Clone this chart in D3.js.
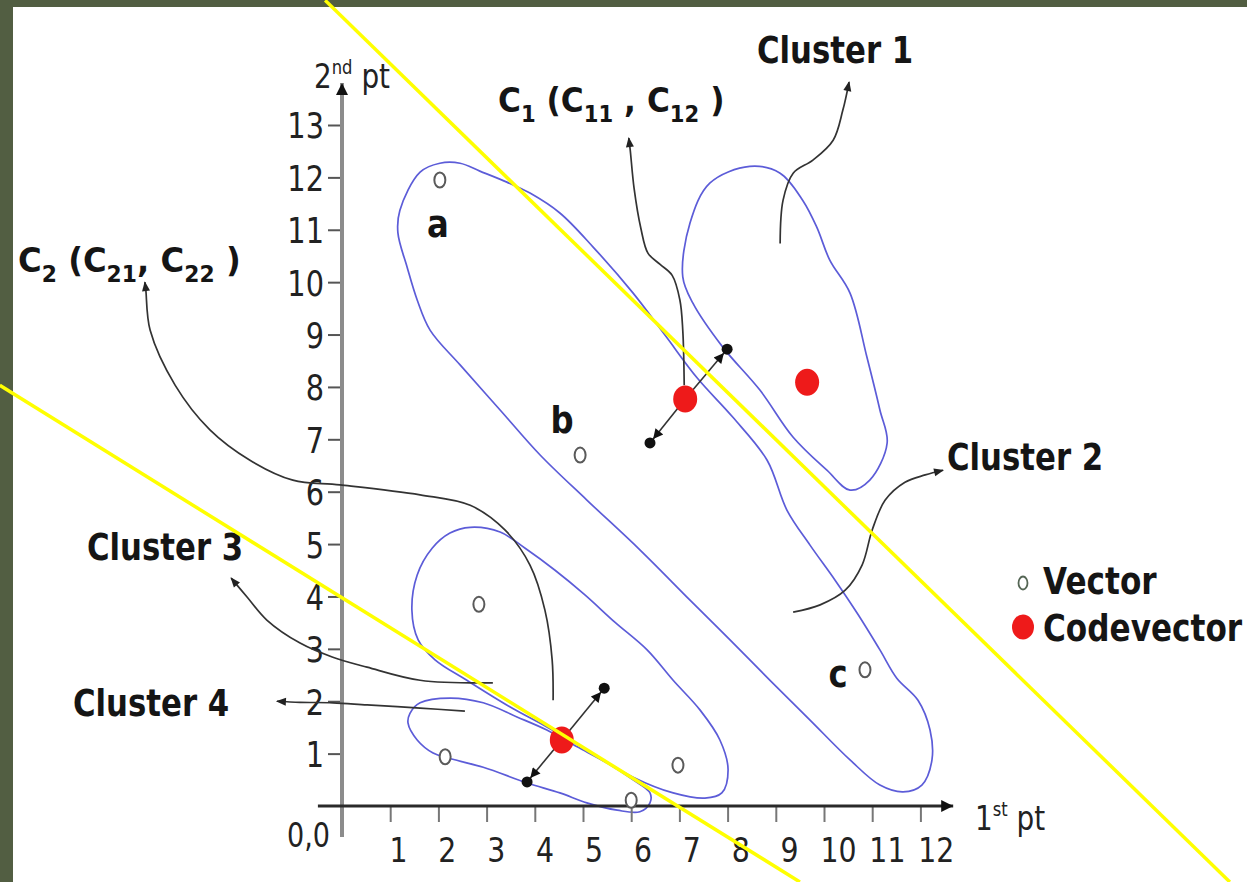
<!DOCTYPE html>
<html>
<head>
<meta charset="utf-8">
<script src="https://cdn.jsdelivr.net/npm/d3@7"></script>
<style>
  html, body { margin: 0; padding: 0; background: #fff; overflow: hidden; }
  svg { display: block; }
</style>
</head>
<body>
<svg id="chart" width="1247" height="882"></svg>
<script>
// ---- Data (in axis units: 1st pt, 2nd pt) ----
const xTicks = [1, 2, 3, 4, 5, 6, 7, 8, 9, 10, 11, 12];
const yTicks = [1, 2, 3, 4, 5, 6, 7, 8, 9, 10, 11, 12, 13];

// training vectors (open markers); the first three carry the letters a, b, c
const vectors = [[2.03, 11.95], [4.94, 6.70], [10.85, 2.60], [2.84, 3.85], [2.14, 0.94], [6.97, 0.78], [6.0, 0.11]];
const vectorNames = ["a", "b", "c"];

// codevectors (filled red): C1, cluster-1 centre, C2
const codevectors = [[7.12, 7.77], [9.65, 8.09], [4.56, 1.26]];
// displacement arrows drawn out of C1 and C2
const c1Moves = [[7.99, 8.72], [6.39, 6.93]];
const c2Moves = [[5.44, 2.25], [3.84, 0.46]];

// hand-drawn cluster outlines
const cluster1 = [[8.46, 12.21], [9.09, 12.08], [9.56, 11.56], [9.85, 11.05], [10.12, 10.42], [10.54, 9.79], [10.89, 8.57], [11.16, 7.56], [11.31, 6.93], [10.95, 6.22], [10.54, 6.03], [10.06, 6.41], [9.36, 7.04], [8.67, 7.94], [7.90, 8.76], [7.28, 9.60], [7.07, 10.10], [7.22, 11.13], [7.63, 11.89]];
const cluster2 = [[1.62, 12.10], [2.03, 12.27], [2.45, 12.27], [2.86, 12.12], [3.42, 11.91], [3.90, 11.70], [4.52, 11.32], [5.21, 10.67], [6.04, 9.79], [6.70, 8.99], [7.37, 8.17], [8.11, 7.42], [8.82, 6.60], [9.23, 5.65], [9.71, 4.98], [10.23, 4.31], [10.71, 3.65], [11.16, 2.98], [11.51, 2.44], [11.95, 2.02], [12.20, 1.45], [12.24, 0.88], [12.03, 0.40], [11.64, 0.27], [11.16, 0.40], [10.54, 0.88], [9.71, 1.64], [8.88, 2.40], [8.05, 3.17], [7.22, 3.93], [6.18, 4.89], [5.08, 5.84], [4.11, 6.70], [3.28, 7.56], [2.45, 8.42], [1.83, 9.08], [1.56, 9.66], [1.35, 10.29], [1.16, 10.94], [1.20, 11.37]];
const cluster3 = [[2.66, 5.32], [3.28, 5.23], [3.80, 4.92], [4.42, 4.50], [5.04, 4.03], [5.66, 3.51], [6.33, 2.98], [6.87, 2.40], [7.43, 1.83], [7.84, 1.26], [8.01, 0.69], [7.88, 0.25], [7.53, 0.15], [6.87, 0.25], [6.04, 0.55], [5.08, 1.07], [4.25, 1.51], [3.49, 1.89], [2.59, 2.40], [1.93, 2.79], [1.58, 3.17], [1.45, 3.74], [1.56, 4.41], [1.87, 4.92], [2.24, 5.21]];
const cluster4 = [[1.41, 1.77], [1.62, 1.97], [2.24, 2.06], [2.93, 1.97], [3.63, 1.70], [4.25, 1.45], [4.88, 1.13], [5.50, 0.82], [6.04, 0.50], [6.39, 0.25], [6.39, 0.06], [6.18, -0.11], [5.71, -0.08], [5.08, 0.06], [4.52, 0.25], [3.84, 0.44], [2.93, 0.74], [2.18, 0.92], [1.89, 1.01], [1.56, 1.26], [1.37, 1.58]];

// callout curves, each ending in an arrowhead next to its caption
const calloutCluster1 = [[9.09, 10.74], [9.15, 11.56], [9.36, 12.08], [9.77, 12.33], [10.19, 12.71], [10.39, 13.28], [10.52, 13.82]];
const calloutC1 = [[7.10, 8.03], [7.07, 9.08], [7.01, 9.66], [6.85, 10.13], [6.60, 10.34], [6.35, 10.55], [6.20, 11.03], [6.06, 11.79], [5.98, 12.52], [5.95, 12.75]];
const calloutC2 = [[4.38, 2.02], [4.36, 2.79], [4.21, 3.74], [3.90, 4.60], [3.38, 5.27], [2.66, 5.74], [1.62, 5.94], [-0.04, 6.13], [-1.02, 6.22], [-1.91, 6.60], [-2.74, 7.18], [-3.46, 8.03], [-3.98, 9.08], [-4.07, 9.85], [-4.09, 10.0]];
const calloutCluster3 = [[3.13, 2.35], [1.62, 2.40], [0.52, 2.65], [-0.19, 2.84], [-0.87, 3.11], [-1.56, 3.55], [-1.97, 3.99], [-2.30, 4.35]];
const calloutCluster4 = [[2.55, 1.81], [1.62, 1.87], [0.52, 1.93], [-0.19, 1.97], [-0.87, 1.98], [-1.35, 2.00]];
const calloutCluster2 = [[9.36, 3.70], [9.92, 3.84], [10.44, 4.12], [10.79, 4.60], [11.00, 5.27], [11.27, 5.84], [11.68, 6.18], [12.10, 6.32], [12.47, 6.41]];

// the two yellow straight lines crossing the plane
const splitLines = [
  [[-0.35, 15.38], [18.42, -1.45]],
  [[-7.10, 8.03], [9.50, -1.45]]
];

// ---- Layout ----
const W = 1247, H = 882;
const svg = d3.select("#chart");
const x = d3.scaleLinear().domain([0, 12]).range([342, 920.4]);
const y = d3.scaleLinear().domain([0, 13]).range([806, 125]);

const INK = "#151515";
const BLUE = "#5c5cd8";
const RED = "#ee1a1a";

// frame
svg.append("rect").attr("width", W).attr("height", H).attr("fill", "#525e42");
svg.append("rect").attr("x", 13).attr("y", 7).attr("width", W - 13).attr("height", H - 7).attr("fill", "#fff");

// markers
const defs = svg.append("defs");
defs.append("marker").attr("id", "head")
  .attr("viewBox", "0 0 10 10").attr("refX", 9).attr("refY", 5)
  .attr("markerUnits", "userSpaceOnUse").attr("markerWidth", 11).attr("markerHeight", 10)
  .attr("orient", "auto")
  .append("path").attr("d", "M0,1 L10,5 L0,9 Z").attr("fill", "#222");
defs.append("marker").attr("id", "axisHead")
  .attr("viewBox", "0 0 10 10").attr("refX", 10).attr("refY", 5)
  .attr("markerUnits", "userSpaceOnUse").attr("markerWidth", 14).attr("markerHeight", 12)
  .attr("orient", "auto")
  .append("path").attr("d", "M0,0 L10,5 L0,10 Z").attr("fill", "#111");
defs.append("marker").attr("id", "moveHead")
  .attr("viewBox", "0 0 10 10").attr("refX", 15).attr("refY", 5)
  .attr("markerUnits", "userSpaceOnUse").attr("markerWidth", 12).attr("markerHeight", 10)
  .attr("orient", "auto")
  .append("path").attr("d", "M0,0 L10,5 L0,10 Z").attr("fill", "#111");

// cluster outlines
const outline = d3.line().x(d => x(d[0])).y(d => y(d[1])).curve(d3.curveCatmullRomClosed.alpha(0.5));
svg.append("g").selectAll("path")
  .data([cluster1, cluster2, cluster3, cluster4])
  .join("path")
  .attr("d", outline)
  .attr("fill", "none")
  .attr("stroke", BLUE)
  .attr("stroke-width", 1.7);

// axes
const yAxis = d3.axisLeft(y).tickValues(yTicks).tickSizeInner(14).tickSizeOuter(0);
const gy = svg.append("g").attr("transform", `translate(${x(0)},0)`).call(yAxis);
gy.select(".domain").remove();
gy.selectAll(".tick line").attr("stroke", "#555").attr("stroke-width", 2);
gy.selectAll(".tick text")
  .attr("font-family", "DejaVu Sans").attr("font-size", 36).attr("fill", "#222")
  .attr("x", 0).attr("dy", "0.36em")
  .attr("transform", "translate(-18,0) scale(0.8,1)");

const xAxis = d3.axisBottom(x).tickValues(xTicks).tickSizeInner(16).tickSizeOuter(0);
const gx = svg.append("g").attr("transform", `translate(0,${y(0)})`).call(xAxis);
gx.select(".domain").remove();
gx.selectAll(".tick line").attr("stroke", "#777").attr("stroke-width", 2);
gx.selectAll(".tick text")
  .attr("font-family", "DejaVu Sans").attr("font-size", 33).attr("fill", "#222")
  .attr("y", 0).attr("dy", 0)
  .attr("transform", d => `translate(${7 + d * 0.7},56) scale(0.86,1)`);

// axis lines with arrowheads
svg.append("line")
  .attr("x1", x(0)).attr("y1", y(-0.59)).attr("x2", x(0)).attr("y2", y(13.8))
  .attr("stroke", "#8c8c8c").attr("stroke-width", 4).attr("marker-end", "url(#axisHead)");
svg.append("line")
  .attr("x1", x(-0.5)).attr("y1", y(0)).attr("x2", x(12.68)).attr("y2", y(0))
  .attr("stroke", "#2a2a2a").attr("stroke-width", 3).attr("marker-end", "url(#axisHead)");

// axis captions
function scaledText(px, py, sx, opts) {
  const g = svg.append("g").attr("transform", `translate(${px},${py}) scale(${sx},1)`);
  const t = g.append("text")
    .attr("font-family", opts.family || "DejaVu Sans")
    .attr("font-size", opts.size)
    .attr("font-weight", opts.weight || "normal")
    .attr("fill", opts.fill || INK)
    .attr("text-anchor", opts.anchor || "start");
  return t;
}
function supCaption(px, py, base, sup, rest) {
  const t = scaledText(px, py, 0.82, { size: 34, fill: "#222" });
  t.append("tspan").text(base);
  t.append("tspan").attr("font-size", 20).attr("dy", -14).text(sup);
  t.append("tspan").attr("dy", 14).text(rest);
}
supCaption(314, 88, "2", "nd", " pt");
supCaption(975, 830, "1", "st", "  pt");
scaledText(330, 847, 0.82, { size: 33, fill: "#222", anchor: "end" }).text("0,0");

// callout curves
const callout = d3.line().x(d => x(d[0])).y(d => y(d[1])).curve(d3.curveCatmullRom.alpha(0.5));
svg.append("g").selectAll("path")
  .data([calloutCluster1, calloutC1, calloutC2, calloutCluster3, calloutCluster4, calloutCluster2])
  .join("path")
  .attr("d", callout)
  .attr("fill", "none")
  .attr("stroke", "#333")
  .attr("stroke-width", 1.7)
  .attr("marker-end", "url(#head)");

// codevector displacement arrows
const moves = [
  ...c1Moves.map(e => [codevectors[0], e]),
  ...c2Moves.map(e => [codevectors[2], e])
];
svg.append("g").selectAll("line")
  .data(moves)
  .join("line")
  .attr("x1", d => x(d[0][0])).attr("y1", d => y(d[0][1]))
  .attr("x2", d => x(d[1][0])).attr("y2", d => y(d[1][1]))
  .attr("stroke", "#333").attr("stroke-width", 1.6)
  .attr("marker-end", "url(#moveHead)");
svg.append("g").selectAll("circle")
  .data(moves)
  .join("circle")
  .attr("cx", d => x(d[1][0])).attr("cy", d => y(d[1][1]))
  .attr("r", 5.5).attr("fill", "#111");

// vectors
svg.append("g").selectAll("ellipse")
  .data(vectors)
  .join("ellipse")
  .attr("cx", d => x(d[0])).attr("cy", d => y(d[1]))
  .attr("rx", 5.5).attr("ry", 7.5)
  .attr("fill", "#fff").attr("stroke", "#5a5a5a").attr("stroke-width", 2);

// codevectors
svg.append("g").selectAll("ellipse")
  .data(codevectors)
  .join("ellipse")
  .attr("cx", d => x(d[0])).attr("cy", d => y(d[1]))
  .attr("rx", 12).attr("ry", 13.5)
  .attr("fill", RED);

// letters beside vectors a, b, c (pixel offsets from the marker)
const letterOffsets = [[-2, 57], [-18, -22], [-27, 17]];
vectorNames.forEach((name, i) => {
  const p = vectors[i];
  scaledText(x(p[0]) + letterOffsets[i][0], y(p[1]) + letterOffsets[i][1], 0.85,
    { size: 38, weight: "bold", anchor: "middle" }).text(name);
});

// cluster captions
const captions = [
  ["Cluster 1", 757, 63],
  ["Cluster 2", 947, 470],
  ["Cluster 3", 87, 560],
  ["Cluster 4", 73, 716]
];
captions.forEach(([txt, px, py]) => {
  scaledText(px, py, 0.81, { size: 38, weight: "bold" }).text(txt);
});

// codevector captions with subscripts
function codeCaption(px, py, sx, parts) {
  const t = scaledText(px, py, sx, { size: 34, weight: "bold" });
  let shifted = false;
  parts.forEach(([s, sub]) => {
    const ts = t.append("tspan").text(s);
    if (sub && !shifted) { ts.attr("dy", 10); shifted = true; }
    else if (!sub && shifted) { ts.attr("dy", -10); shifted = false; }
    if (sub) ts.attr("font-size", 23);
  });
}
codeCaption(498, 112, 0.92, [["C"], ["1", true], [" (C"], ["11", true], [" , C"], ["12", true], [" )"]]);
codeCaption(18, 272, 0.95, [["C"], ["2", true], [" (C"], ["21", true], [", C"], ["22", true], [" )"]]);

// legend
svg.append("ellipse").attr("cx", 1023).attr("cy", 583).attr("rx", 4.5).attr("ry", 6.5)
  .attr("fill", "#fff").attr("stroke", "#556655").attr("stroke-width", 1.8);
svg.append("ellipse").attr("cx", 1023).attr("cy", 627).attr("rx", 11).attr("ry", 12.5).attr("fill", RED);
scaledText(1043, 594, 0.82, { size: 38, weight: "bold" }).text("Vector");
scaledText(1043, 641, 0.82, { size: 38, weight: "bold" }).text("Codevector");

// yellow straight lines on top
svg.append("g").selectAll("line")
  .data(splitLines)
  .join("line")
  .attr("x1", d => x(d[0][0])).attr("y1", d => y(d[0][1]))
  .attr("x2", d => x(d[1][0])).attr("y2", d => y(d[1][1]))
  .attr("stroke", "#ffff00").attr("stroke-width", 3.5);
</script>
</body>
</html>
